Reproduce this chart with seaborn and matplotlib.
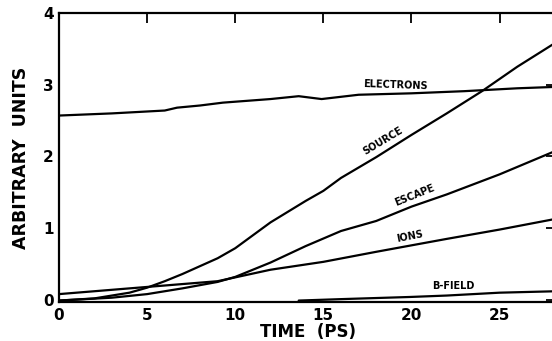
import matplotlib
matplotlib.use("Agg")
import matplotlib.pyplot as plt
import seaborn as sns
import pandas as pd

# ---- data ----
electrons_t = [0, 3, 6, 6.7, 8, 9.3, 12, 13.6, 14.9, 17, 20, 23, 26, 28.2]
electrons_v = [2.57, 2.60, 2.64, 2.68, 2.71, 2.75, 2.80, 2.84, 2.80, 2.86, 2.88, 2.91, 2.95, 2.97]

source_t = [0, 2, 4, 5, 6, 7, 8, 9, 10, 11, 12, 14, 15, 16, 18, 20, 22, 24, 26, 28.2]
source_v = [-0.01, 0.02, 0.10, 0.17, 0.26, 0.36, 0.47, 0.58, 0.72, 0.90, 1.08, 1.38, 1.52, 1.70,
            1.99, 2.30, 2.60, 2.91, 3.25, 3.59]

escape_t = [0, 3, 5, 7, 9, 10, 12, 14, 16, 18, 20, 22, 25, 28.2]
escape_v = [-0.01, 0.03, 0.08, 0.16, 0.25, 0.32, 0.52, 0.75, 0.96, 1.10, 1.30, 1.47, 1.75, 2.08]

ions_t = [0, 5, 9, 12, 15, 18, 22, 25, 28.2]
ions_v = [0.08, 0.18, 0.26, 0.42, 0.53, 0.67, 0.85, 0.98, 1.13]

bfield_t = [13.6, 16, 19.9, 22, 25, 28.2]
bfield_v = [-0.01, 0.01, 0.04, 0.06, 0.10, 0.12]

series = {
    "ELECTRONS": (electrons_t, electrons_v),
    "SOURCE": (source_t, source_v),
    "ESCAPE": (escape_t, escape_v),
    "IONS": (ions_t, ions_v),
    "B-FIELD": (bfield_t, bfield_v),
}

x_ticks = [0, 5, 10, 15, 20, 25]
y_ticks = [0, 1, 2, 3, 4]
x_tick_labels = ["0", "5", "10", "15", "20", "25"]
y_tick_labels = ["0", "1", "2", "3", "4"]

# label placement (data coords) and rotation
label_info = {
    "ELECTRONS": (19.1, 2.99, -2),
    "SOURCE": (18.4, 2.22, 31),
    "ESCAPE": (20.2, 1.46, 22),
    "IONS": (19.9, 0.89, 11),
    "B-FIELD": (22.4, 0.20, 0),
}

rows = []
for name, (ts, vs) in series.items():
    for t, v in zip(ts, vs):
        rows.append({"series": name, "t": t, "v": v})
df = pd.DataFrame(rows)

sns.set_style("white")
plt.rcParams["font.family"] = ["DejaVu Sans"]
plt.rcParams["text.color"] = "black"
plt.rcParams["axes.labelcolor"] = "black"
plt.rcParams["xtick.color"] = "black"
plt.rcParams["ytick.color"] = "black"

fig = plt.figure(figsize=(5.52, 3.41), dpi=100)
ax = fig.add_axes([59 / 552, 1 - 302 / 341, (556 - 59) / 552, (302 - 13) / 341])

for name in series:
    sub = df[df["series"] == name]
    sns.lineplot(data=sub, x="t", y="v", ax=ax, color="black", linewidth=1.6,
                 estimator=None, sort=False)

for name, (lx, ly, rot) in label_info.items():
    ax.text(lx, ly, name, fontsize=7, fontweight="bold", rotation=rot,
            ha="center", va="center", rotation_mode="anchor", color="black")

ax.set_xlim(0, 28.2)
ax.set_ylim(-0.03, 4.0)
ax.set_xticks(x_ticks)
ax.set_xticklabels(x_tick_labels)
ax.set_yticks(y_ticks)
ax.set_yticklabels(y_tick_labels)
ax.tick_params(axis="both", direction="in", length=7, width=1.3, labelsize=11,
               top=True, right=True, pad=4, colors="black")
for lab in ax.get_xticklabels() + ax.get_yticklabels():
    lab.set_fontweight("bold")

for s in ax.spines.values():
    s.set_linewidth(1.6)
    s.set_color("black")

ax.set_xlabel("TIME  (PS)", fontsize=12, fontweight="bold", labelpad=0, color="black")
ax.set_ylabel("ARBITRARY  UNITS", fontsize=12.5, fontweight="bold", labelpad=9, color="black")
ax.grid(False)

fig.savefig("out.png", dpi=100)
